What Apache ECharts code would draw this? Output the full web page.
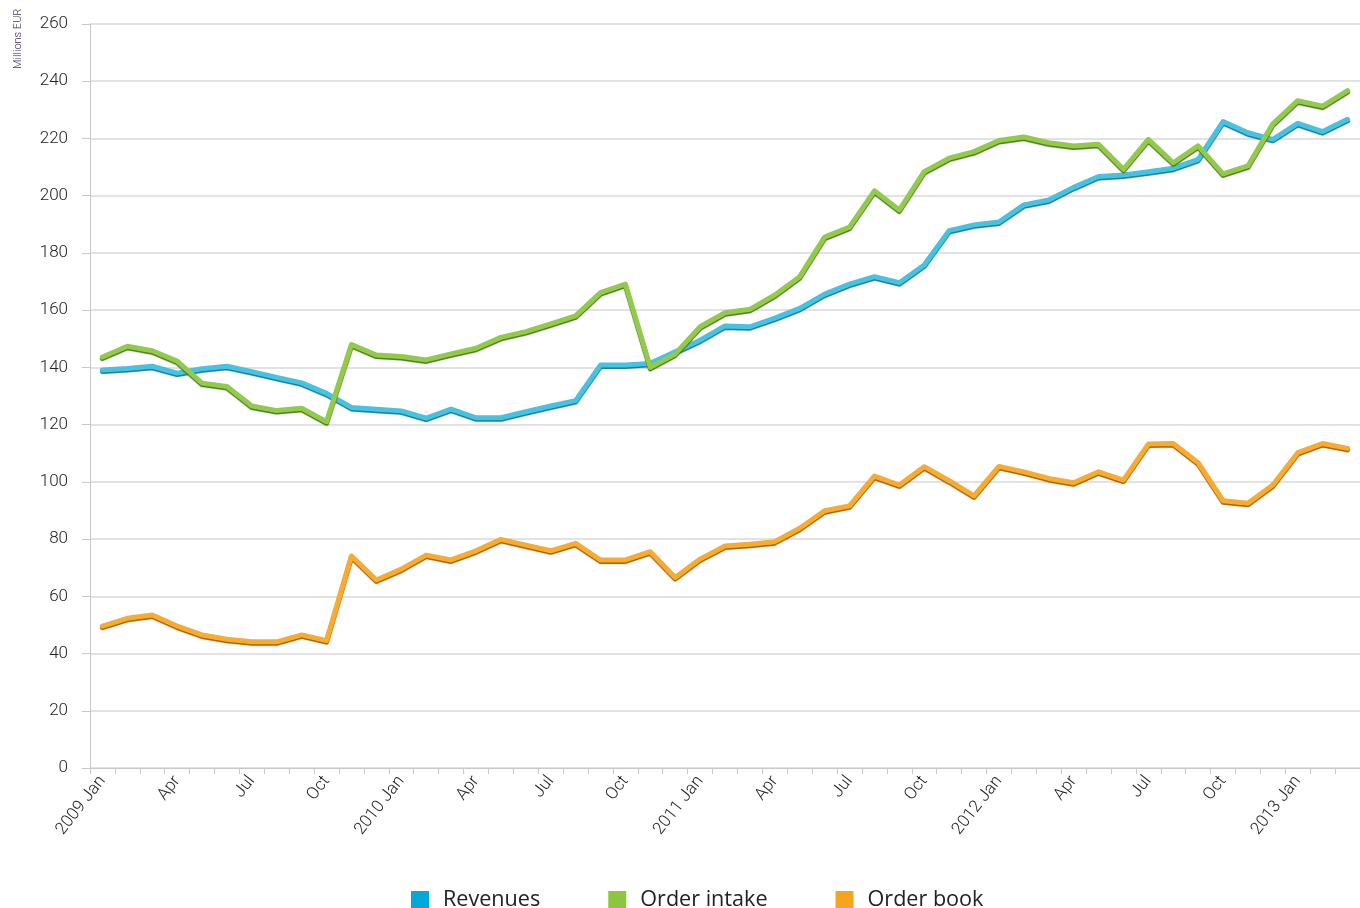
<!DOCTYPE html>
<html lang="en">
<head>
    <meta charset="utf-8">
    <title>Revenues, order intake and order book</title>
    <script src="https://cdn.jsdelivr.net/npm/echarts@6/dist/echarts.min.js"></script>
    <style>
        html, body { margin: 0; padding: 0; background: #fff; }
        #main { width: 1360px; height: 908px; }
    </style>
</head>
<body>
<div id="main"></div>
<script type="text/javascript">
    var months = [
        '2009 Jan', 'Feb', 'Mar', 'Apr', 'May', 'Jun', 'Jul', 'Aug', 'Sep', 'Oct', 'Nov', 'Dec',
        '2010 Jan', 'Feb', 'Mar', 'Apr', 'May', 'Jun', 'Jul', 'Aug', 'Sep', 'Oct', 'Nov', 'Dec',
        '2011 Jan', 'Feb', 'Mar', 'Apr', 'May', 'Jun', 'Jul', 'Aug', 'Sep', 'Oct', 'Nov', 'Dec',
        '2012 Jan', 'Feb', 'Mar', 'Apr', 'May', 'Jun', 'Jul', 'Aug', 'Sep', 'Oct', 'Nov', 'Dec',
        '2013 Jan', 'Feb', 'Mar'
    ];

    var revenues = [
        139.1, 139.6, 140.4, 138.0, 139.5, 140.4, 138.5, 136.5, 134.6, 130.9, 126.0, 125.4,
        124.8, 122.3, 125.4, 122.4, 122.4, 124.5, 126.5, 128.4, 140.8, 140.8, 141.4, 145.5,
        149.5, 154.5, 154.2, 157.2, 160.6, 165.6, 169.1, 171.7, 169.6, 175.8, 187.8, 189.8,
        190.8, 196.8, 198.5, 202.9, 206.7, 207.2, 208.4, 209.6, 212.7, 225.9, 222.0, 219.7,
        225.3, 222.4, 226.7
    ];

    var orderIntake = [
        143.6, 147.4, 145.8, 142.2, 134.5, 133.3, 126.5, 124.9, 125.7, 121.0, 148.0, 144.3,
        143.8, 142.6, 144.7, 146.7, 150.5, 152.5, 155.2, 158.0, 166.1, 169.1, 140.0, 144.7,
        154.2, 159.1, 160.3, 165.3, 171.7, 185.5, 189.0, 201.7, 195.0, 208.4, 213.1, 215.4,
        219.3, 220.5, 218.5, 217.4, 218.0, 209.2, 219.7, 211.5, 217.4, 207.6, 210.4, 225.1,
        233.2, 231.3, 236.7
    ];

    var orderBook = [
        49.6, 52.3, 53.5, 49.6, 46.5, 45.0, 44.1, 44.1, 46.5, 44.5, 74.1, 65.7,
        69.5, 74.4, 72.7, 75.9, 79.9, 77.9, 75.9, 78.5, 72.7, 72.7, 75.6, 66.6,
        73.0, 77.6, 78.2, 79.1, 83.8, 89.9, 91.6, 102.0, 98.9, 105.3, 100.4, 95.1,
        105.4, 103.5, 101.2, 99.7, 103.5, 100.6, 113.2, 113.4, 106.7, 93.4, 92.5, 98.9,
        110.2, 113.4, 111.7
    ];

    var myChart = echarts.init(document.getElementById('main'));

    // thick line with a darker lower edge, like the bevelled lines of the original
    function lineSeries(name, data, color, edge) {
        return {
            name: name,
            type: 'line',
            data: data,
            symbol: 'none',
            itemStyle: { color: color },
            lineStyle: {
                width: 5,
                color: color,
                cap: 'round',
                join: 'round',
                shadowColor: edge,
                shadowBlur: 1,
                shadowOffsetY: 1.5
            },
            emphasis: { disabled: true }
        };
    }

    var option = {
        animation: false,
        textStyle: { fontFamily: 'Roboto, "Liberation Sans", sans-serif' },
        grid: {
            left: 90,
            right: -10,
            top: 24,
            bottom: 140
        },
        legend: {
            top: 884,
            left: 406,
            icon: 'rect',
            itemWidth: 18,
            itemHeight: 18,
            itemGap: 68,
            textStyle: {
                fontFamily: '"Open Sans", "Noto Sans", sans-serif',
                fontSize: 21.6,
                color: '#222',
                padding: [0, 0, 0, 9]
            },
            data: [
                { name: 'Revenues', itemStyle: { color: '#00a9d6' } },
                { name: 'Order intake', itemStyle: { color: '#8cc63f' } },
                { name: 'Order book', itemStyle: { color: '#f7a41d' } }
            ]
        },
        graphic: [{
            type: 'text',
            x: 18,
            y: 69,
            rotation: Math.PI / 2,
            style: {
                text: 'Millions EUR',
                fill: '#3b2c5c',
                font: '300 11px Roboto, "Liberation Sans", sans-serif',
                textAlign: 'left',
                textVerticalAlign: 'middle'
            }
        }],
        xAxis: {
            type: 'category',
            data: months,
            boundaryGap: true,
            axisLine: { lineStyle: { color: '#c8c8c8', width: 1 } },
            axisTick: { show: true, interval: 0, length: 6, lineStyle: { color: '#c8c8c8' } },
            axisLabel: {
                interval: 2,
                rotate: 52,
                margin: 10,
                color: '#222',
                fontSize: 17,
                fontWeight: 300
            },
            splitLine: { show: false }
        },
        yAxis: {
            type: 'value',
            min: 0,
            max: 260,
            interval: 20,
            axisLine: { show: true, lineStyle: { color: '#c8c8c8', width: 1 } },
            axisTick: { show: true, length: 8, lineStyle: { color: '#c8c8c8' } },
            axisLabel: {
                margin: 22,
                color: '#222',
                fontSize: 17,
                fontWeight: 300
            },
            splitLine: { lineStyle: { color: '#d9d9d9', width: 1.5 } }
        },
        series: [
            lineSeries('Revenues', revenues, '#45c3e3', '#1a7290'),
            lineSeries('Order intake', orderIntake, '#92cb4a', '#4a7222'),
            lineSeries('Order book', orderBook, '#f8ab2e', '#9a5d0c')
        ]
    };

    myChart.setOption(option);
</script>
</body>
</html>
